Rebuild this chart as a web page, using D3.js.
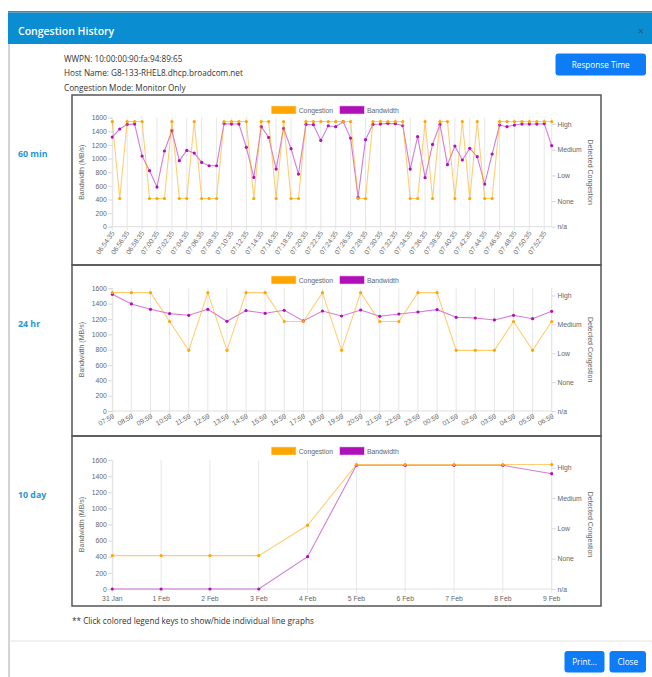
<!DOCTYPE html>
<html lang="en">

<head>
    <meta charset="UTF-8">
    <title>Congestion History</title>
    <script src="https://cdn.jsdelivr.net/npm/d3@7"></script>
    <style>
        body {
            margin: 0;
            background: #fff;
        }

        svg text {
            font-family: "Open Sans", sans-serif;
        }

        svg text.tick-text {
            font-family: "Liberation Sans", Arial, sans-serif;
            font-size: 6.8px;
            fill: #666;
        }
    </style>
</head>

<body>
    <script>
        // congestion levels, bottom to top on the right axis
        const levels = ["n/a", "None", "Low", "Medium", "High"];

        const min60Labels = [
            "06:54:35", "06:55:35", "06:56:35", "06:57:35", "06:58:35", "06:59:35", "07:00:35", "07:01:35", "07:02:35", "07:03:35",
            "07:04:35", "07:05:35", "07:06:35", "07:07:35", "07:08:35", "07:09:35", "07:10:35", "07:11:35", "07:12:35", "07:13:35",
            "07:14:35", "07:15:35", "07:16:35", "07:17:35", "07:18:35", "07:19:35", "07:20:35", "07:21:35", "07:22:35", "07:23:35",
            "07:24:35", "07:25:35", "07:26:35", "07:27:35", "07:28:35", "07:29:35", "07:30:35", "07:31:35", "07:32:35", "07:33:35",
            "07:34:35", "07:35:35", "07:36:35", "07:37:35", "07:38:35", "07:39:35", "07:40:35", "07:41:35", "07:42:35", "07:43:35",
            "07:44:35", "07:45:35", "07:46:35", "07:47:35", "07:48:35", "07:49:35", "07:50:35", "07:51:35", "07:52:35", "07:53:35"
        ];
        // congestion (points sit a little above each level line)
        const min60Congestion = [4.1, 1.1, 4.1, 4.1, 4.1, 1.1, 1.1, 1.1, 4.1, 1.1, 1.1, 4.1, 1.1, 1.1, 1.1, 4.1, 4.1, 4.1, 4.1, 1.1,
            4.1, 4.1, 1.1, 4.1, 1.1, 1.1, 4.1, 4.1, 4.1, 4.1, 4.1, 4.1, 4.1, 1.1, 1.1, 4.1, 4.1, 4.1, 4.1, 4.1,
            1.1, 1.1, 4.1, 1.1, 4.1, 4.1, 1.1, 4.1, 1.1, 4.1, 1.1, 1.1, 4.1, 4.1, 4.1, 4.1, 4.1, 4.1, 4.1, 4.1];
        const min60Bandwidth = [1316, 1434, 1502, 1507, 1037, 822, 582, 1111, 1409, 969, 1120, 1081, 944, 895, 895, 1512, 1507, 1507, 1165, 724,
            1468, 1311, 846, 1443, 1145, 773, 1502, 1497, 1267, 1482, 1468, 1541, 1301, 430, 1277, 1502, 1507, 1517, 1512, 1482,
            846, 1321, 719, 1208, 1502, 910, 1184, 979, 1150, 1028, 626, 1067, 1492, 1468, 1492, 1507, 1507, 1507, 1512, 1189];

        const hr24Labels = ["07:59", "08:59", "09:59", "10:59", "11:59", "12:59", "13:59", "14:59", "15:59", "16:59", "17:59", "18:59",
            "19:59", "20:59", "21:59", "22:59", "23:59", "00:59", "01:59", "02:59", "03:59", "04:59", "05:59", "06:59"];
        const hr24Congestion = [4.1, 4.1, 4.1, 3.1, 2.1, 4.1, 2.1, 4.1, 4.1, 3.1, 3.1, 4.1, 2.1, 4.1, 3.1, 3.1, 4.1, 4.1, 2.1, 2.1, 2.1, 3.1, 2.1, 3.1];
        const hr24Bandwidth = [1522, 1396, 1326, 1270, 1248, 1326, 1170, 1309, 1274, 1313, 1174, 1304,
            1239, 1317, 1235, 1265, 1291, 1322, 1222, 1213, 1187, 1248, 1204, 1300];

        const day10Labels = ["31 Jan", "1 Feb", "2 Feb", "3 Feb", "4 Feb", "5 Feb", "6 Feb", "7 Feb", "8 Feb", "9 Feb"];
        const day10Congestion = [1.1, 1.1, 1.1, 1.1, 2.1, 4.1, 4.1, 4.1, 4.1, 4.1];
        const day10Bandwidth = [0, 0, 0, 0, 401, 1534, 1534, 1534, 1534, 1430];

        const bwTicks = [0, 200, 400, 600, 800, 1000, 1200, 1400, 1600];

        const ORANGE = "#ffa500";
        const PURPLE = "#b010b8";
        const BLUE_BTN = "#0d7cf6";

        const width = 652;
        const height = 677;

        const svg = d3.select("body").append("svg").attr("width", width).attr("height", height);

        // modal header
        svg.append("rect").attr("x", 8).attr("y", 11).attr("width", width - 8).attr("height", 1.6).attr("fill", "#7d7d7d");
        svg.append("rect").attr("x", 8).attr("y", 12.5).attr("width", width - 8).attr("height", 31.5).attr("fill", "#0b8dd2");
        svg.append("line").attr("x1", 9).attr("x2", 9).attr("y1", 44).attr("y2", height).attr("stroke", "#a8a8a8");
        svg.append("text").attr("x", 18).attr("y", 35).text("Congestion History")
            .attr("fill", "#fff").attr("font-size", 10.5).attr("font-weight", 600);
        svg.append("text").attr("x", 641).attr("y", 34.5).text("×").attr("text-anchor", "middle")
            .attr("fill", "#35566e").attr("font-size", 11);

        // info lines
        const info = ["WWPN: 10:00:00:90:fa:94:89:65", "Host Name: G8-133-RHEL8.dhcp.broadcom.net", "Congestion Mode: Monitor Only"];
        svg.selectAll(".info").data(info).join("text")
            .attr("x", 64).attr("y", (d, i) => 61.5 + i * 14.8)
            .attr("font-size", 8.2).attr("fill", "#333").text(d => d);

        const button = (x, y, w, h, label) => {
            svg.append("rect").attr("x", x).attr("y", y).attr("width", w).attr("height", h).attr("rx", 3).attr("fill", BLUE_BTN);
            svg.append("text").attr("x", x + w / 2).attr("y", y + h / 2 + 3).attr("text-anchor", "middle")
                .attr("fill", "#fff").attr("font-size", 8.2).text(label);
        }
        button(555.5, 53.5, 90.5, 22, "Response Time");

        const charts = [
            { name: "60 min", top: 95, bottom: 265, plotTop: 117.7, plotBottom: 226.7, labels: min60Labels, congestion: min60Congestion, bandwidth: min60Bandwidth, every: 2, rotate: 55 },
            { name: "24 hr", top: 265, bottom: 436, plotTop: 288.3, plotBottom: 411, labels: hr24Labels, congestion: hr24Congestion, bandwidth: hr24Bandwidth, every: 1, rotate: 30 },
            { name: "10 day", top: 436, bottom: 606, plotTop: 460, plotBottom: 589, labels: day10Labels, congestion: day10Congestion, bandwidth: day10Bandwidth, every: 1, rotate: 0 }
        ];

        const left = 112.3, right = 551.7, boxLeft = 72, boxRight = 601;

        charts.forEach(c => {
            const g = svg.append("g");

            g.append("text").attr("x", 18).attr("y", c.top + 61.7).text(c.name)
                .attr("fill", "#1e96d6").attr("font-size", 8.8).attr("font-weight", 700);

            const x = d3.scalePoint().domain(d3.range(c.labels.length)).range([left, right]);
            const yBw = d3.scaleLinear().domain([0, 1600]).range([c.plotBottom, c.plotTop]);
            const yCg = d3.scaleLinear().domain([0, 4.25]).range([c.plotBottom, c.plotTop]);

            // vertical grid lines (with tick marks below the axis)
            const gridIdx = d3.range(c.labels.length).filter(i => i % c.every === 0);
            g.selectAll(".grid").data(gridIdx).join("line")
                .attr("x1", i => x(i)).attr("x2", i => x(i))
                .attr("y1", c.plotTop).attr("y2", c.plotBottom + 4)
                .attr("stroke", "#e4e4e4").attr("stroke-width", 0.9);
            g.append("line").attr("x1", right).attr("x2", right).attr("y1", c.plotTop).attr("y2", c.plotBottom)
                .attr("stroke", "#e4e4e4").attr("stroke-width", 0.9);
            g.append("line").attr("x1", left).attr("x2", right).attr("y1", c.plotBottom).attr("y2", c.plotBottom)
                .attr("stroke", "#dcdcdc").attr("stroke-width", 0.9);

            // left axis
            const la = g.append("g").attr("transform", `translate(${left},0)`)
                .call(d3.axisLeft(yBw).tickValues(bwTicks).tickFormat(d3.format("d")).tickSize(4).tickPadding(1.5));
            la.select(".domain").attr("stroke", "#e4e4e4");
            la.selectAll(".tick line").attr("stroke", "#d8d8d8");
            la.selectAll(".tick text").attr("class", "tick-text");

            // right axis
            const ra = g.append("g").attr("transform", `translate(${right},0)`)
                .call(d3.axisRight(yCg).tickValues(d3.range(levels.length)).tickFormat(i => levels[i]).tickSize(4).tickPadding(1.8));
            ra.select(".domain").remove();
            ra.selectAll(".tick line").attr("stroke", "#d8d8d8");
            ra.selectAll(".tick text").attr("class", "tick-text");

            // x labels
            g.selectAll(".xl").data(gridIdx).join("text")
                .attr("class", "tick-text")
                .attr("transform", i => c.rotate
                    ? `translate(${x(i) + 2.5},${c.plotBottom + 6.5}) rotate(${-c.rotate})`
                    : `translate(${x(i)},${c.plotBottom + 11.5})`)
                .attr("text-anchor", c.rotate ? "end" : "middle")
                .text(i => c.labels[i]);

            // axis titles
            const midY = (c.plotTop + c.plotBottom) / 2;
            g.append("text").attr("class", "tick-text").attr("transform", `translate(84,${midY}) rotate(-90)`)
                .attr("text-anchor", "middle").style("font-size", "7px").text("Bandwidth (MB/s)");
            g.append("text").attr("class", "tick-text").attr("transform", `translate(587.5,${midY}) rotate(90)`)
                .attr("text-anchor", "middle").style("font-size", "7px").text("Detected Congestion");

            // series: bandwidth below, congestion on top
            const series = [
                { values: c.bandwidth, y: yBw, color: PURPLE },
                { values: c.congestion, y: yCg, color: ORANGE }
            ];
            series.forEach(s => {
                const line = d3.line().x((d, i) => x(i)).y(d => s.y(d));
                g.append("path").attr("d", line(s.values)).attr("fill", "none")
                    .attr("stroke", s.color).attr("stroke-opacity", 0.55).attr("stroke-width", 1.1);
                g.selectAll(null).data(s.values).join("circle")
                    .attr("cx", (d, i) => x(i)).attr("cy", d => s.y(d)).attr("r", 1.6).attr("fill", s.color);
            });

            // legend
            const legend = [{ label: "Congestion", color: ORANGE, x: 271.7 }, { label: "Bandwidth", color: PURPLE, x: 340 }];
            legend.forEach(l => {
                g.append("rect").attr("x", l.x).attr("y", c.top + 11.3).attr("width", 24).attr("height", 7.3)
                    .attr("fill", l.color).attr("stroke", l.color).attr("stroke-opacity", 0.5);
                g.append("text").attr("class", "tick-text").attr("x", l.x + 27).attr("y", c.top + 17.5).text(l.label);
            });

            // box
            g.append("rect").attr("x", boxLeft).attr("y", c.top).attr("width", boxRight - boxLeft).attr("height", c.bottom - c.top)
                .attr("fill", "none").attr("stroke", "#555").attr("stroke-width", 1.5);
        });

        svg.append("text").attr("x", 72).attr("y", 624).attr("font-size", 8.2).attr("fill", "#333")
            .text("** Click colored legend keys to show/hide individual line graphs");

        svg.append("line").attr("x1", 9).attr("x2", width).attr("y1", 641).attr("y2", 641).attr("stroke", "#e3e3e3");

        button(564.5, 651, 40, 21.5, "Print...");
        button(609.5, 651, 36.5, 21.5, "Close");
    </script>
</body>

</html>
